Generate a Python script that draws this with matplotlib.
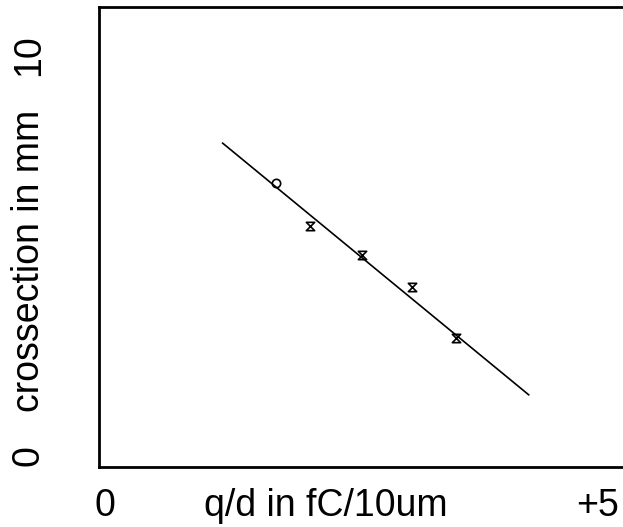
import matplotlib
matplotlib.use("Agg")
import matplotlib.pyplot as plt
from matplotlib.path import Path

# data
fit_x = [1.18, 4.10]
fit_y = [7.04, 1.57]
pts_x = [1.69, 2.01, 2.51, 2.99, 3.41]
pts_y = [6.17, 5.24, 4.61, 3.91, 2.80]
pts_marker = ["o", "hour", "hour", "hour", "hour"]

xlim = (0, 5)
ylim = (0, 10)
x_tick_labels = ["0", "+5"]
y_tick_labels = ["0", "10"]
xlabel = "q/d in fC/10um"
ylabel = "crossection in mm"

hourglass = Path([(-1, 1), (1, 1), (-1, -1), (1, -1), (-1, 1)],
                 [Path.MOVETO, Path.LINETO, Path.LINETO, Path.LINETO, Path.CLOSEPOLY])

plt.rcParams['font.family'] = ['Liberation Sans', 'DejaVu Sans']

W, H = 623, 527
fig = plt.figure(figsize=(W / 100, H / 100), dpi=100)
ax = fig.add_axes([99 / W, (H - 467) / H, 524 / W, 460 / H])
ax.set_xlim(*xlim)
ax.set_ylim(*ylim)
ax.set_xticks([])
ax.set_yticks([])
ax.spines['right'].set_visible(False)
for s in ['left', 'top', 'bottom']:
    ax.spines[s].set_linewidth(2)

ax.plot(fit_x, fit_y, color='black', lw=1.2)
for x, y, m in zip(pts_x, pts_y, pts_marker):
    if m == "o":
        ax.plot([x], [y], marker='o', ms=6, mfc='none', mec='black', mew=1.2)
    else:
        ax.plot([x], [y], marker=hourglass, ms=6, mfc='none', mec='black', mew=1.2)

fs = 27
# x-axis texts
fig.text(105 / W, 1 - 506 / H, x_tick_labels[0], fontsize=fs, ha='center', va='center')
fig.text(326 / W, 1 - 506 / H, xlabel, fontsize=fs, ha='center', va='center')
fig.text(598 / W, 1 - 506 / H, x_tick_labels[1], fontsize=fs, ha='center', va='center')
# y-axis texts
fig.text(29 / W, 1 - 456 / H, y_tick_labels[0], fontsize=fs, ha='center', va='center', rotation=90)
fig.text(29 / W, 1 - 261 / H, ylabel, fontsize=fs, ha='center', va='center', rotation=90)
fig.text(29 / W, 1 - 55 / H, y_tick_labels[1], fontsize=fs, ha='center', va='center', rotation=90)

fig.savefig("out.png", dpi=100)
